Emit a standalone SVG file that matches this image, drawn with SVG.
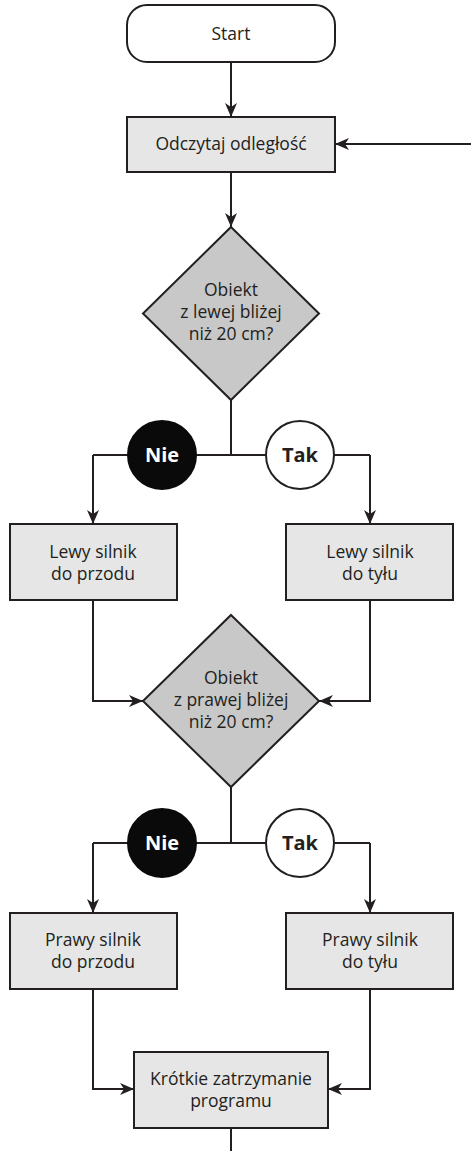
<svg xmlns="http://www.w3.org/2000/svg" width="471" height="1151" viewBox="0 0 471 1151">
<defs>
<marker id="arr" viewBox="0 0 14 12" refX="14" refY="6" markerWidth="14" markerHeight="12" markerUnits="userSpaceOnUse" orient="auto">
<path d="M0,0 L14,6 L0,12 L4,6 z" fill="#231f20"/>
</marker>
<style>
.box{fill:#e6e6e6;stroke:#231f20;stroke-width:2}
.term{fill:#ffffff;stroke:#231f20;stroke-width:2}
.dia{fill:#c8c8c8;stroke:#231f20;stroke-width:2}
.ln{fill:none;stroke:#231f20;stroke-width:2}
.t{font-family:"Open Sans","Noto Sans","Liberation Sans",sans-serif;font-size:17.5px;fill:#231f20;text-anchor:middle}
.b{font-family:"Open Sans","Noto Sans","Liberation Sans",sans-serif;font-size:20px;font-weight:bold;text-anchor:middle}
</style>
</defs>
<rect width="471" height="1151" fill="#ffffff"/>
<g id="connectors">
<path class="ln" d="M231,62 V117" marker-end="url(#arr)"/>
<path class="ln" d="M471,144 H335" marker-end="url(#arr)"/>
<path class="ln" d="M231,172 V227" marker-end="url(#arr)"/>
<path class="ln" d="M231,400 V455"/>
<path class="ln" d="M93,455 H370"/>
<path class="ln" d="M93,455 V524" marker-end="url(#arr)"/>
<path class="ln" d="M370,455 V524" marker-end="url(#arr)"/>
<path class="ln" d="M93,600 V701 H143" marker-end="url(#arr)"/>
<path class="ln" d="M370,600 V701 H319" marker-end="url(#arr)"/>
<path class="ln" d="M231,787 V843"/>
<path class="ln" d="M93,843 H370"/>
<path class="ln" d="M93,843 V913" marker-end="url(#arr)"/>
<path class="ln" d="M370,843 V913" marker-end="url(#arr)"/>
<path class="ln" d="M93,989 V1089 H134" marker-end="url(#arr)"/>
<path class="ln" d="M370,989 V1089 H328" marker-end="url(#arr)"/>
<path class="ln" d="M231,1128 V1151"/>
</g>
<g id="start">
<rect class="term" x="127" y="5" width="208" height="57" rx="20" ry="20"/>
<text class="t" x="231" y="40">Start</text>
</g>
<g id="read">
<rect class="box" x="127" y="117" width="208" height="55"/>
<text class="t" x="231" y="150">Odczytaj odległość</text>
</g>
<g id="decision1">
<polygon class="dia" points="231,227 319,313.5 231,400 143,313.5"/>
<text class="t" x="231" y="296">Obiekt</text>
<text class="t" x="231" y="318">z lewej bliżej</text>
<text class="t" x="231" y="340">niż 20 cm?</text>
</g>
<g id="nie1">
<circle cx="162" cy="455" r="34" fill="#0a0a0a" stroke="#0a0a0a" stroke-width="2"/>
<text class="b" x="162" y="462" fill="#ffffff">Nie</text>
</g>
<g id="tak1">
<circle cx="300" cy="455" r="34" fill="#ffffff" stroke="#231f20" stroke-width="2"/>
<text class="b" x="300" y="462" fill="#231f20">Tak</text>
</g>
<g id="left-fwd">
<rect class="box" x="10" y="524" width="167" height="76"/>
<text class="t" x="93" y="558">Lewy silnik</text>
<text class="t" x="93" y="580">do przodu</text>
</g>
<g id="left-back">
<rect class="box" x="286" y="524" width="167" height="76"/>
<text class="t" x="370" y="558">Lewy silnik</text>
<text class="t" x="370" y="580">do tyłu</text>
</g>
<g id="decision2">
<polygon class="dia" points="231,615 319,701 231,787 143,701"/>
<text class="t" x="231" y="684">Obiekt</text>
<text class="t" x="231" y="706">z prawej bliżej</text>
<text class="t" x="231" y="728">niż 20 cm?</text>
</g>
<g id="nie2">
<circle cx="162" cy="843" r="34" fill="#0a0a0a" stroke="#0a0a0a" stroke-width="2"/>
<text class="b" x="162" y="850" fill="#ffffff">Nie</text>
</g>
<g id="tak2">
<circle cx="300" cy="843" r="34" fill="#ffffff" stroke="#231f20" stroke-width="2"/>
<text class="b" x="300" y="850" fill="#231f20">Tak</text>
</g>
<g id="right-fwd">
<rect class="box" x="10" y="913" width="167" height="76"/>
<text class="t" x="93" y="946">Prawy silnik</text>
<text class="t" x="93" y="968">do przodu</text>
</g>
<g id="right-back">
<rect class="box" x="286" y="913" width="167" height="76"/>
<text class="t" x="370" y="946">Prawy silnik</text>
<text class="t" x="370" y="968">do tyłu</text>
</g>
<g id="pause">
<rect class="box" x="134" y="1052" width="194" height="76"/>
<text class="t" x="231" y="1085">Krótkie zatrzymanie</text>
<text class="t" x="231" y="1107">programu</text>
</g>
</svg>
